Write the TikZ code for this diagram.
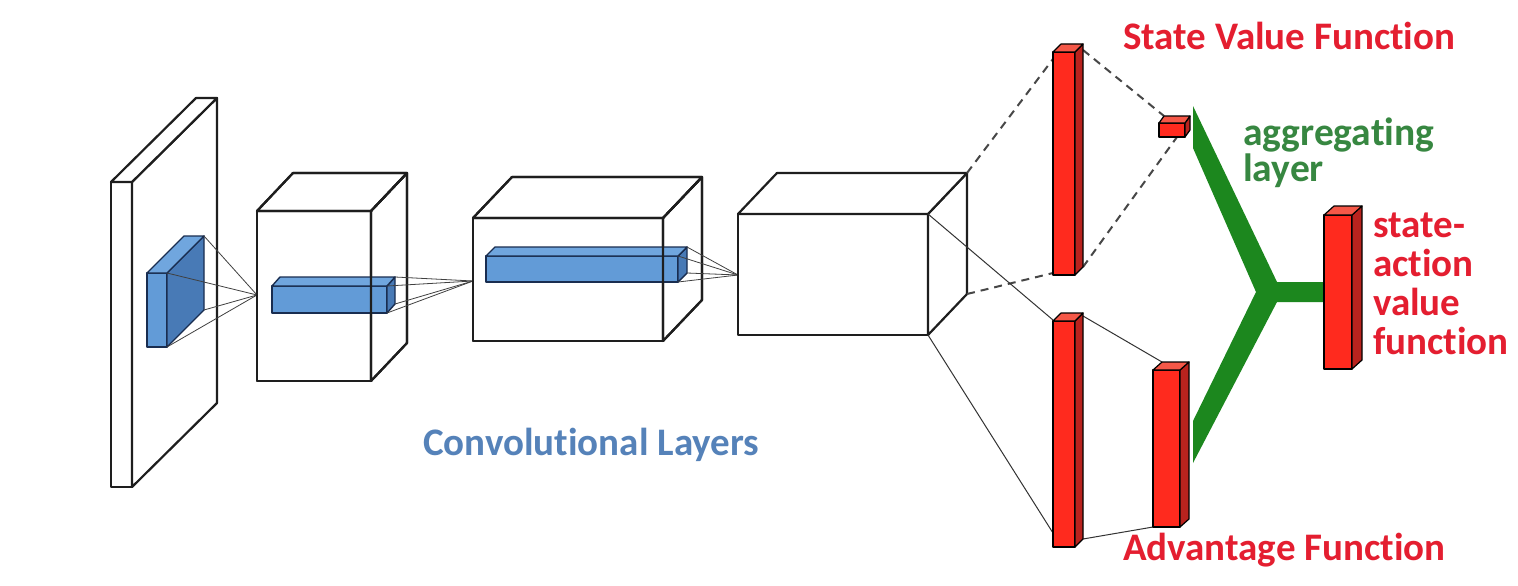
\documentclass[tikz,border=0pt]{standalone}
\usepackage{fontspec}
\setmainfont{Carlito}[Ligatures=NoCommon]
\definecolor{edge}{RGB}{30,30,30}
\definecolor{blueline}{RGB}{25,45,80}
\definecolor{bluefr}{RGB}{98,155,215}
\definecolor{bluesd}{RGB}{72,122,182}
\definecolor{bluetp}{RGB}{112,166,222}
\definecolor{redfr}{RGB}{255,42,30}
\definecolor{redsd}{RGB}{185,35,30}
\definecolor{redtp}{RGB}{245,88,72}
\definecolor{aggGreen}{RGB}{28,135,30}
\definecolor{txtred}{RGB}{228,30,48}
\definecolor{txtgreen}{RGB}{55,135,65}
\definecolor{txtblue}{RGB}{85,130,185}
\tikzset{
  wirefront/.style={draw=edge, fill=white, line width=2.2pt, line join=round},
  wireside/.style={draw=edge, fill=white, line width=2.2pt, line join=round},
  wiretop/.style={draw=edge, fill=white, line width=2.2pt, line join=round},
  outlinefront/.style={draw=edge, line width=2.2pt, line join=round},
  outlineside/.style={draw=edge, line width=2.2pt, line join=round},
  outlinetop/.style={draw=edge, line width=2.2pt, line join=round},
  bluefront/.style={draw=blueline, fill=bluefr, line width=1.4pt, line join=round},
  blueside/.style={draw=blueline, fill=bluesd, line width=1.4pt, line join=round},
  bluetop/.style={draw=blueline, fill=bluetp, line width=1.4pt, line join=round},
  redfront/.style={draw=black, fill=redfr, line width=1.2pt, line join=round},
  redside/.style={draw=black, fill=redsd, line width=1.2pt, line join=round},
  redtop/.style={draw=black, fill=redtp, line width=1.2pt, line join=round},
  fan/.style={draw=black!75, line width=0.8pt},
  dashlink/.style={draw=black!72, line width=2pt, dash pattern=on 8pt off 6pt},
  link/.style={draw=black!80, line width=1pt},
  redtxt/.style={text=txtred, font=\bfseries\fontsize{39}{42}\selectfont, inner sep=0pt, anchor=base west},
  greentxt/.style={text=txtgreen, font=\bfseries\fontsize{39.5}{42}\selectfont, inner sep=0pt, anchor=base west},
  bluetxt/.style={text=txtblue, font=\bfseries\fontsize{39}{42}\selectfont, inner sep=0pt, anchor=base west},
}
% name, x1, y1, x2, y2, dx, dy, style prefix
\newcommand{\prism}[8]{%
  \coordinate (#1-ftl) at (#2,#3);
  \coordinate (#1-ftr) at (#4,#3);
  \coordinate (#1-fbl) at (#2,#5);
  \coordinate (#1-fbr) at (#4,#5);
  \coordinate (#1-btl) at (#2+#6,#3+#7);
  \coordinate (#1-btr) at (#4+#6,#3+#7);
  \coordinate (#1-bbr) at (#4+#6,#5+#7);
  \path[#8front] (#1-ftl) rectangle (#1-fbr);
  \path[#8side] (#1-ftr) -- (#1-btr) -- (#1-bbr) -- (#1-fbr) -- cycle;
  \path[#8top] (#1-ftl) -- (#1-btl) -- (#1-btr) -- (#1-ftr) -- cycle;
}
\begin{document}
\begin{tikzpicture}[x=1pt,y=-1pt]
\useasboundingbox (0,0) rectangle (1518,586);
\fill[white] (0,0) rectangle (1518,586);

% input slab with filter
\prism{s1}{111}{182}{132}{487}{85}{-84}{wire}
\prism{f1}{147}{273}{167}{347}{37}{-37}{blue}
\coordinate (c2-in) at (257,295);
\draw[fan] (f1-btr) -- (c2-in);
\draw[fan] (f1-ftr) -- (c2-in);
\draw[fan] (f1-bbr) -- (c2-in);
\draw[fan] (f1-fbr) -- (c2-in);

% second cube
\prism{c2}{257}{211}{371}{381}{36}{-38}{wire}
\prism{b2}{272}{286}{387}{313}{8}{-9}{blue}
\prism{c2}{257}{211}{371}{381}{36}{-38}{outline}
\coordinate (c3-in) at (473,281);
\draw[fan] (b2-btr) -- (c3-in);
\draw[fan] (b2-ftr) -- (c3-in);
\draw[fan] (b2-bbr) -- (c3-in);
\draw[fan] (b2-fbr) -- (c3-in);

% third cube
\prism{c3}{473}{218}{663}{341}{39}{-41}{wire}
\prism{b3}{486}{256}{678}{282}{9}{-9}{blue}
\prism{c3}{473}{218}{663}{341}{39}{-41}{outline}
\coordinate (c4-in) at (738,275);
\draw[fan] (b3-btr) -- (c4-in);
\draw[fan] (b3-ftr) -- (c4-in);
\draw[fan] (b3-bbr) -- (c4-in);
\draw[fan] (b3-fbr) -- (c4-in);

% fourth cube
\prism{c4}{738}{214}{928}{335}{39}{-41}{wire}

% end points on the red bars (connectors are drawn beneath them)
\coordinate (v1-ftl0) at (1056,55);
\coordinate (v1-fbl0) at (1053,273);
\coordinate (v1-out1) at (1083,50);
\coordinate (v1-out2) at (1083,267);
\coordinate (a1-ftl0) at (1053,320);
\coordinate (a1-fbl0) at (1053,533);
\coordinate (a1-out1) at (1083,316);
\coordinate (a1-out2) at (1083,539);
\coordinate (a2-in1) at (1162,362);
\coordinate (a2-in2) at (1153,527);
\coordinate (vs-in1) at (1164,116);
\coordinate (vs-in2) at (1177,137);

\draw[dashlink] (c4-btr) -- (v1-ftl0);
\draw[dashlink] (c4-bbr) -- (v1-fbl0);
\draw[dashlink] (v1-out1) -- (vs-in1);
\draw[dashlink] (v1-out2) -- (vs-in2);
\draw[link] (c4-ftr) -- (a1-ftl0);
\draw[link] (c4-fbr) -- (a1-fbl0);
\draw[link] (a1-out1) -- (a2-in1);
\draw[link] (a1-out2) -- (a2-in2);

% aggregating layer
\fill[aggGreen] (1193,106) -- (1277,282) -- (1324,282) -- (1324,302) -- (1277,302)
  -- (1193,463) -- (1193,421) -- (1256,292) -- (1193,148) -- cycle;

% red bars
\prism{v1}{1053}{52}{1075}{275}{8}{-8}{red}
\prism{vs}{1159}{123}{1185}{137}{5}{-7}{red}
\prism{a1}{1053}{321}{1075}{547}{8}{-8}{red}
\prism{a2}{1153}{370}{1180}{527}{9}{-8}{red}
\prism{q1}{1324}{215}{1352}{369}{10}{-9}{red}

% labels
\node[redtxt] (svf) at (1123,50) {State Value Function};
\node[redtxt] (af) at (1123,560) {Advantage Function};
\node[greentxt] (agg1) at (1243,145) {aggregating};
\node[greentxt] (agg2) at (1243,181) {layer};
\node[redtxt] (q-1) at (1373,237) {state-};
\node[redtxt] (q-2) at (1373,276) {action};
\node[redtxt] (q-3) at (1373,315) {value};
\node[redtxt] (q-4) at (1373,354) {function};
\node[bluetxt] (conv) at (423,455) {Convolutional Layers};
\end{tikzpicture}
\end{document}
